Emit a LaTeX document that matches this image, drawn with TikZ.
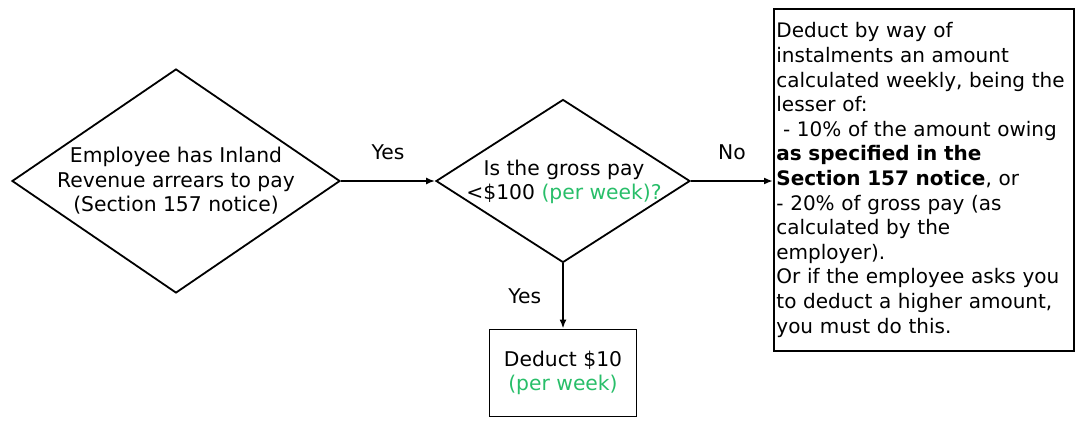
\documentclass[tikz,border=0pt]{standalone}
\usepackage{fontspec}
\setmainfont{DejaVu Sans}
\usetikzlibrary{shapes.geometric,arrows.meta}

\definecolor{weekgreen}{RGB}{40,190,105}

\begin{document}
\begin{tikzpicture}[x=1pt, y=-1pt,
  font=\fontsize{20.3}{24.5}\selectfont,
  every node/.style = {align=center, inner sep=0pt},
  decision/.style = {diamond, draw, line width=1.8pt},
  stepbox/.style = {rectangle, draw, line width=1.8pt},
  flow/.style = {-{Latex[length=9pt,width=7pt]}, line width=1.8pt},
  answer/.style = {midway, anchor=base, yshift=22pt}]
  \useasboundingbox (0,0) rectangle (1075,423);

  % the two questions
  \node[decision, minimum width=328pt, minimum height=224pt] (arrears) at (176,181) {};
  \node (arrearstxt) at (arrears) {Employee has Inland\\Revenue arrears to pay\\(Section 157 notice)};
  \node[decision, minimum width=254pt, minimum height=163pt] (gross) at (563,181) {};
  \node (grosstxt) at (564,182) {Is the gross pay\\<\$100 \textcolor{weekgreen}{(per week)?}};

  % outcomes
  \node[stepbox, minimum width=147pt, minimum height=87pt] (tendollar) at (563,373)
    {Deduct \$10\\\textcolor{weekgreen}{(per week)}};
  \node[stepbox, anchor=north west, text width=295pt, minimum height=342pt,
    inner sep=2.5pt, align=left, font=\fontsize{20}{24.6}\selectfont] (instal) at (773,8)
    {Deduct by way of\\
     instalments an amount\\
     calculated weekly, being the\\
     lesser of:\\
     \ - 10\% of the amount owing\\
     \textbf{as specified in the}\\
     \textbf{Section 157 notice}, or\\
     - 20\% of gross pay (as\\
     calculated by the\\
     employer).\\
     Or if the employee asks you\\
     to deduct a higher amount,\\
     you must do this.};

  \draw[flow] (arrears.east) -- (gross.west) node[answer] (yes1) {Yes};
  \draw[flow] (gross.east) -- (gross.east -| instal.west) node[answer] (no1) {No};
  \draw[flow] (gross.south) -- (tendollar.north) node[midway, left=21pt] (yes2) {Yes};
\end{tikzpicture}
\end{document}
